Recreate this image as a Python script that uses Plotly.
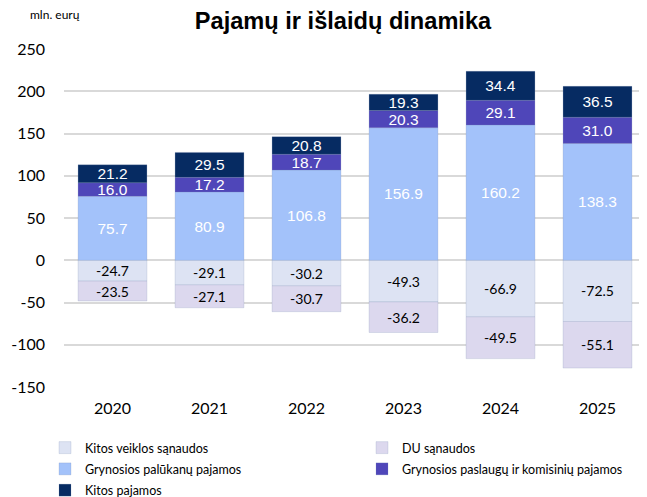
import plotly.graph_objects as go

years = ["2020", "2021", "2022", "2023", "2024", "2025"]
kitos_veiklos = [-24.7, -29.1, -30.2, -49.3, -66.9, -72.5]
du_sanaudos = [-23.5, -27.1, -30.7, -36.2, -49.5, -55.1]
palukanu = [75.7, 80.9, 106.8, 156.9, 160.2, 138.3]
paslaugu = [16.0, 17.2, 18.7, 20.3, 29.1, 31.0]
kitos_pajamos = [21.2, 29.5, 20.8, 19.3, 34.4, 36.5]
y_ticks = [-150, -100, -50, 0, 50, 100, 150, 200, 250]

series = [
    ("Kitos veiklos sąnaudos", kitos_veiklos, "#DDE3F3", "black", "Lato", 14, "legend"),
    ("DU sąnaudos", du_sanaudos, "#DCD8EE", "black", "Lato", 14, "legend2"),
    ("Grynosios palūkanų pajamos", palukanu, "#A3C2FA", "white", "Liberation Sans", 15.5, "legend"),
    ("Grynosios paslaugų ir komisinių pajamos", paslaugu, "#4F46B9", "white", "Liberation Sans", 15.5, "legend2"),
    ("Kitos pajamos", kitos_pajamos, "#062B62", "white", "Liberation Sans", 15.5, "legend"),
]

# the page body adds an 8px offset, so the figure is 8px smaller and shifted
OFF = 8
W, H = 647 - OFF, 497 - OFF

fig = go.Figure()
for i, (name, vals, color, tcolor, tfont, tsize, leg) in enumerate(series):
    fig.add_trace(go.Bar(
        x=years, y=vals, name=name, legend=leg, legendgroup=f"g{i}",
        marker=dict(color=color, line=dict(color="rgba(120,140,180,0.35)", width=0.6)),
        text=[f"{v:.1f}" for v in vals],
        textposition="inside", insidetextanchor="middle",
        textangle=0, constraintext="none",
        textfont=dict(color=tcolor, size=tsize, family=tfont),
        hoverinfo="skip",
    ))

legend_common = dict(orientation="v", xref="container", yref="container",
                     xanchor="left", yanchor="top",
                     font=dict(family="Lato", size=12.5, color="black"),
                     itemclick=False, tracegroupgap=2, bgcolor="rgba(0,0,0,0)")

fig.update_layout(
    barmode="relative",
    bargap=0.29,
    width=W, height=H,
    margin=dict(l=64 - OFF, r=1, t=49 - OFF, b=H - (387 - OFF), autoexpand=False),
    plot_bgcolor="white", paper_bgcolor="white",
    title=dict(text="<b>Pajamų ir išlaidų dinamika</b>", x=(343 - OFF) / W, xanchor="center",
               xref="container", yref="container",
               y=1 - (21 - OFF) / H, yanchor="middle",
               font=dict(family="Liberation Sans", size=23.6, color="black")),
    showlegend=True,
    legend=dict(x=(45 - OFF) / W, y=1 - (433 - OFF) / H, **legend_common),
    legend2=dict(x=(362 - OFF) / W, y=1 - (433 - OFF) / H, **legend_common),
    xaxis=dict(tickfont=dict(family="Lato", size=16, color="black"),
               showgrid=False, showline=False, ticks="", ticklabelstandoff=10,
               automargin=False),
    yaxis=dict(range=[-150, 250], tickvals=y_ticks, ticktext=[str(v) for v in y_ticks],
               tickfont=dict(family="Lato", size=16, color="black"),
               showgrid=True, gridcolor="#D9D9D9", gridwidth=2,
               zeroline=True, zerolinecolor="#D9D9D9", zerolinewidth=2,
               ticks="", ticklabelstandoff=18, automargin=False),
    annotations=[dict(text="mln. eurų", x=(55 - 64) / 582, y=(387 - 15) / 338,
                      xref="paper", yref="paper",
                      xanchor="center", yanchor="middle", showarrow=False,
                      font=dict(family="Lato", size=12, color="black"))],
)
fig.write_html("out.html")
